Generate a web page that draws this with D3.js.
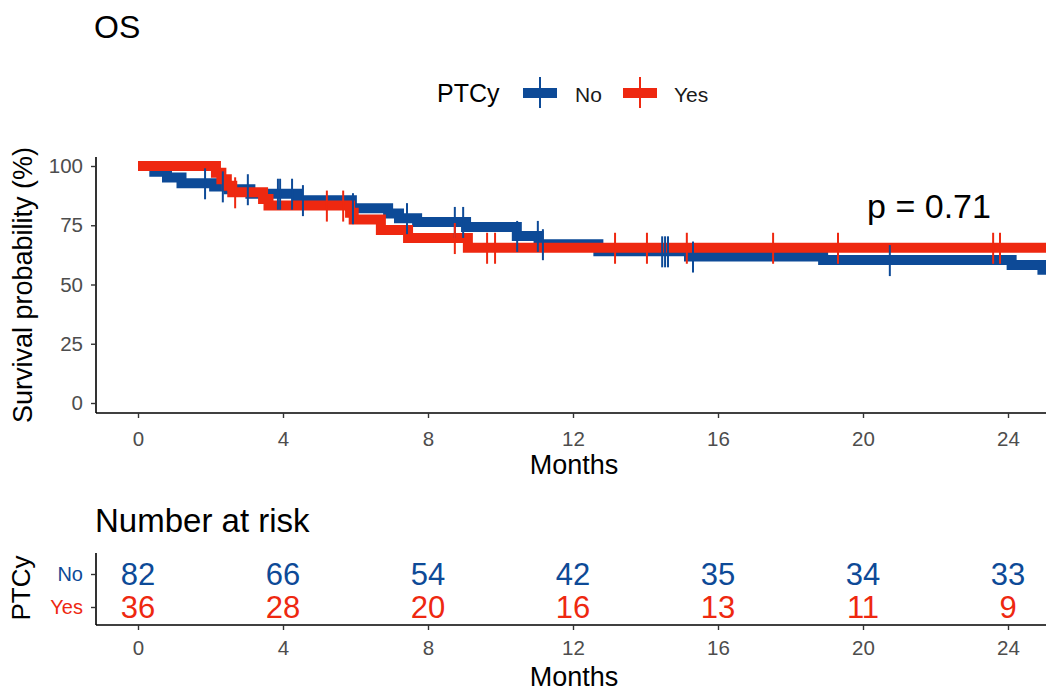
<!DOCTYPE html>
<html>
<head>
<meta charset="utf-8">
<script src="https://cdn.jsdelivr.net/npm/d3@7"></script>
<style>
  body { margin: 0; background: #fff; }
  svg { display: block; font-family: "Liberation Sans", Arial, sans-serif; }
</style>
</head>
<body>
<div id="chart"></div>
<script>
// survival steps (months, %)
const noTimes = [0, 0.45, 0.8, 1.2, 2.1, 2.5, 3.1, 4.4, 5.9, 6.9, 7.2, 7.7, 9.05, 10.45, 11.05, 12.7, 15.2, 18.9, 24.1, 24.95];
const noSurv  = [100, 97.6, 95.1, 92.7, 91.4, 90.2, 88.3, 85.6, 82.2, 80.0, 78.0, 76.4, 74.3, 70.5, 67.0, 64.0, 61.8, 60.3, 58.2, 56.2];
const noCensor = [1.85, 2.34, 3.03, 3.86, 3.92, 4.25, 4.55, 5.93, 7.42, 8.74, 8.97, 10.46, 11.03, 11.17, 14.46, 14.54, 14.62, 15.31, 20.74];

const yesTimes = [0, 2.15, 2.3, 2.45, 2.6, 3.45, 3.6, 5.85, 5.95, 6.7, 7.45, 9.1];
const yesSurv  = [100, 97.2, 94.4, 91.7, 88.9, 86.1, 83.3, 80.3, 77.4, 73.0, 69.6, 65.5];
const yesCensor = [2.68, 5.21, 5.66, 8.74, 9.63, 9.85, 13.16, 14.04, 15.14, 17.52, 19.31, 23.59, 23.78];

const lastFollowUp = 25.6;

const xTicks = [0, 4, 8, 12, 16, 20, 24];
const yTicks = [0, 25, 50, 75, 100];
const riskNo  = [82, 66, 54, 42, 35, 34, 33];
const riskYes = [36, 28, 20, 16, 13, 11, 9];
const groups = ["No", "Yes"];
const pValue = "p = 0.71";

const blue = "#0d4a97";
const red = "#ee2810";
const tickGrey = "#4d4d4d";
const fontFam = "Liberation Sans, Arial, sans-serif";

const width = 1046, height = 692;
const svg = d3.select("#chart").append("svg")
  .attr("width", width).attr("height", height);

const x = d3.scaleLinear().domain([0, 24]).range([138, 1008]);
const y = d3.scaleLinear().domain([0, 100]).range([403, 166]);

// title
svg.append("text").attr("x", 94).attr("y", 38)
  .attr("font-size", 32).attr("fill", "#000").text("OS");

// legend
const legend = svg.append("g").attr("transform", "translate(0,93)");
legend.append("text").attr("x", 437).attr("y", 9)
  .attr("font-size", 25).text("PTCy");
[{c: blue, cx: 540, lab: "No", lx: 575}, {c: red, cx: 640, lab: "Yes", lx: 674}].forEach(k => {
  legend.append("line").attr("x1", k.cx - 17).attr("x2", k.cx + 17)
    .attr("stroke", k.c).attr("stroke-width", 10);
  legend.append("line").attr("x1", k.cx).attr("x2", k.cx).attr("y1", -16).attr("y2", 15)
    .attr("stroke", k.c).attr("stroke-width", 2);
  legend.append("text").attr("x", k.lx).attr("y", 9)
    .attr("font-size", 21).attr("fill", "#1a1a1a").text(k.lab);
});

// axes
function styleAxis(a, size) {
  a.select(".domain").attr("stroke", "#000").attr("stroke-width", 1.6);
  a.selectAll(".tick line").attr("stroke", "#333").attr("stroke-width", 1.4);
  a.selectAll(".tick text").attr("font-size", size).attr("fill", tickGrey)
    .attr("font-family", fontFam);
}
const plot = svg.append("g");
const yAxis = plot.append("g").attr("transform", "translate(96,0)")
  .call(d3.axisLeft(y).tickValues(yTicks).tickSize(5).tickPadding(8));
yAxis.select(".domain").attr("d", "M0,157V413");
const xAxis = plot.append("g").attr("transform", "translate(0,413)")
  .call(d3.axisBottom(x).tickValues(xTicks).tickSize(5).tickPadding(13));
xAxis.select(".domain").attr("d", "M96,0H1046");
styleAxis(yAxis, 20.5);
styleAxis(xAxis, 20.5);

svg.append("text").attr("transform", "translate(32,285) rotate(-90)")
  .attr("text-anchor", "middle").attr("font-size", 27).text("Survival probability (%)");
svg.append("text").attr("x", 574).attr("y", 474)
  .attr("text-anchor", "middle").attr("font-size", 27).text("Months");

// curves
function steps(times, surv) {
  const pts = times.map((t, i) => [t, surv[i]]);
  pts.push([lastFollowUp, surv[surv.length - 1]]);
  return pts;
}
function survAt(times, surv, t) {
  const i = d3.bisectRight(times, t) - 1;
  return surv[Math.max(0, i)];
}
const line = d3.line().x(d => x(d[0])).y(d => y(d[1])).curve(d3.curveStepAfter);

const curves = [
  {times: noTimes, surv: noSurv, cens: noCensor, color: blue},
  {times: yesTimes, surv: yesSurv, cens: yesCensor, color: red}
];
curves.forEach(c => {
  plot.append("path").datum(steps(c.times, c.surv))
    .attr("d", line).attr("fill", "none")
    .attr("stroke", c.color).attr("stroke-width", 10)
    .attr("stroke-linejoin", "miter");
});
curves.forEach(c => {
  plot.append("g").selectAll("line").data(c.cens).join("line")
    .attr("x1", d => x(d)).attr("x2", d => x(d))
    .attr("y1", d => y(survAt(c.times, c.surv, d)) - 15)
    .attr("y2", d => y(survAt(c.times, c.surv, d)) + 16)
    .attr("stroke", c.color).attr("stroke-width", 2);
});

svg.append("text").attr("x", 929).attr("y", 218)
  .attr("text-anchor", "middle").attr("font-size", 34).text(pValue);

// risk table
svg.append("text").attr("x", 95).attr("y", 532)
  .attr("font-size", 33).text("Number at risk");
const ry = d3.scalePoint().domain(groups).range([574, 607]);
const rAxisY = svg.append("g").attr("transform", "translate(96,0)")
  .call(d3.axisLeft(ry).tickSize(5).tickPadding(8));
rAxisY.select(".domain").attr("d", "M0,553V625");
const rAxisX = svg.append("g").attr("transform", "translate(0,625)")
  .call(d3.axisBottom(x).tickValues(xTicks).tickSize(5).tickPadding(10));
rAxisX.select(".domain").attr("d", "M96,0H1046");
styleAxis(rAxisY, 20);
styleAxis(rAxisX, 20.5);
rAxisY.selectAll(".tick text").attr("fill", d => d === "No" ? blue : red);

[{vals: riskNo, g: "No", c: blue}, {vals: riskYes, g: "Yes", c: red}].forEach(r => {
  svg.append("g").selectAll("text").data(r.vals).join("text")
    .attr("x", (d, i) => x(xTicks[i]))
    .attr("y", ry(r.g)).attr("dy", "0.36em")
    .attr("text-anchor", "middle").attr("font-size", 31)
    .attr("fill", r.c).text(d => d);
});

svg.append("text").attr("transform", "translate(30,588) rotate(-90)")
  .attr("text-anchor", "middle").attr("font-size", 26).text("PTCy");
svg.append("text").attr("x", 574).attr("y", 686)
  .attr("text-anchor", "middle").attr("font-size", 27).text("Months");
</script>
</body>
</html>
